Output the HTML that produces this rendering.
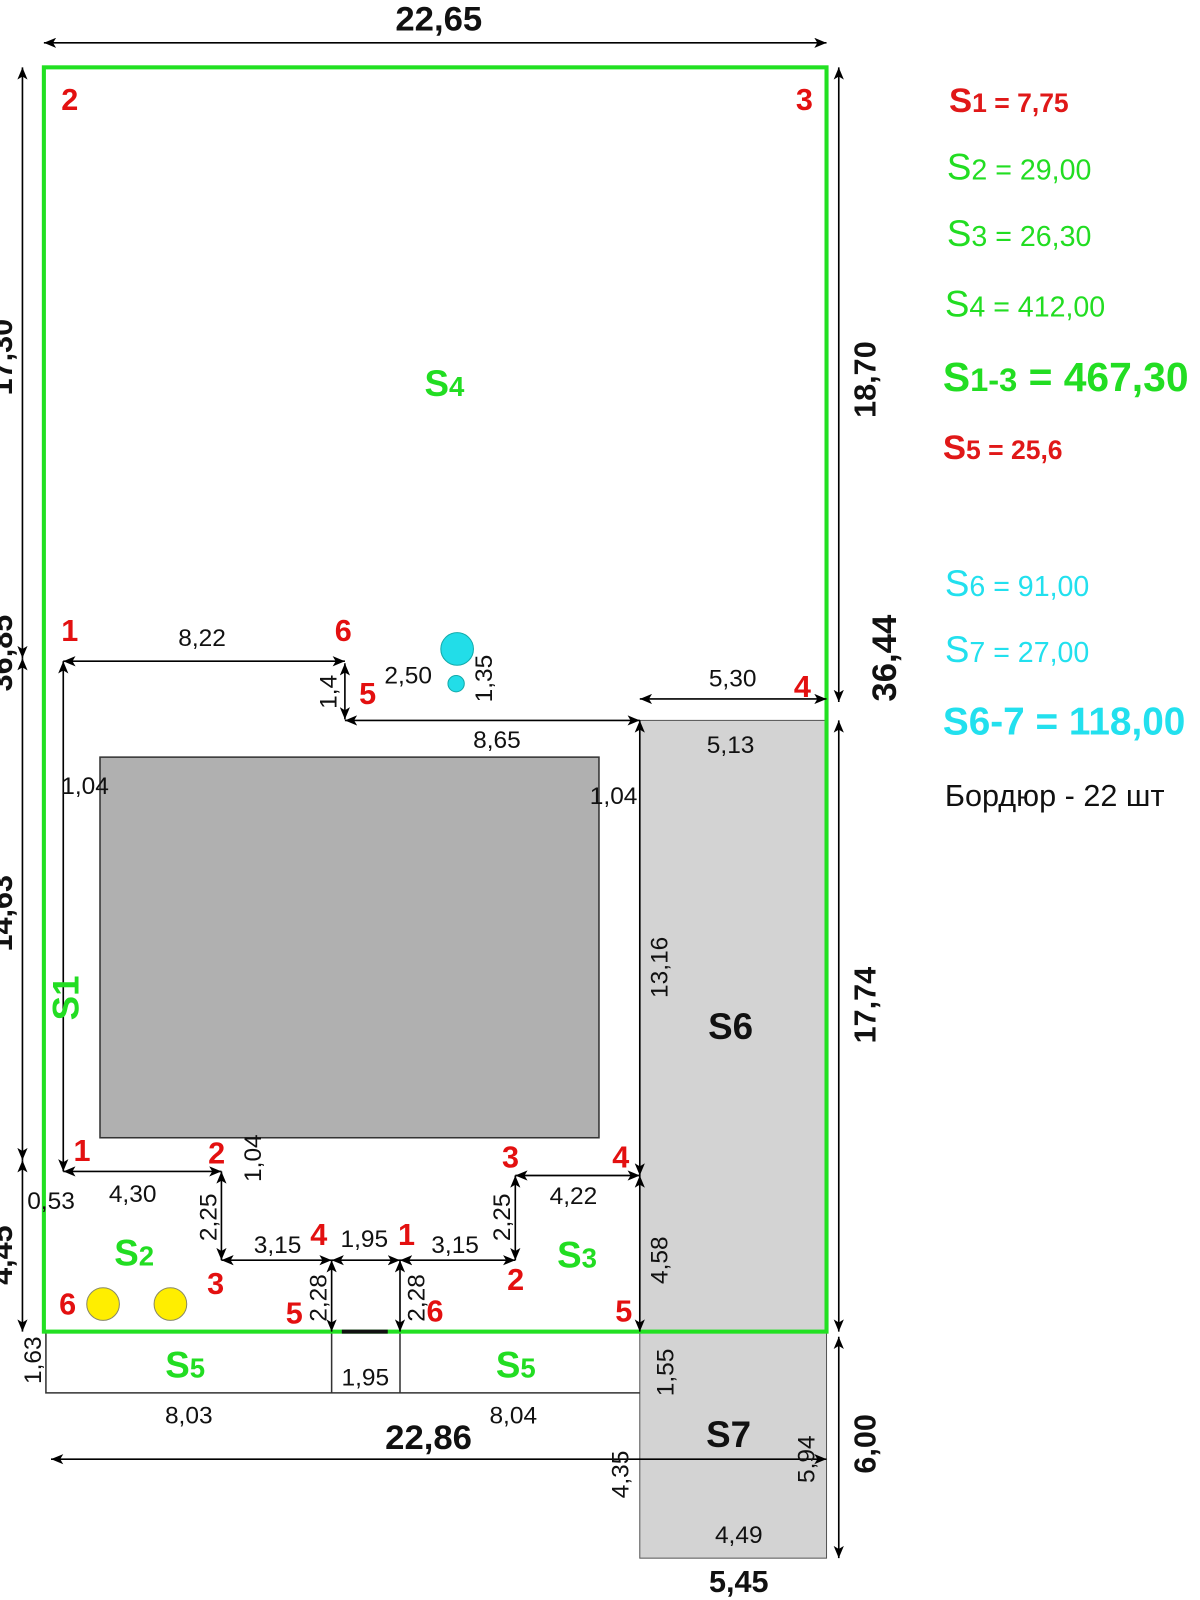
<!DOCTYPE html>
<html><head><meta charset="utf-8"><style>
html,body{margin:0;padding:0;background:#fff}
svg{display:block}
text{font-family:"Liberation Sans","DejaVu Sans",sans-serif}
.d{font-size:24px;fill:#111}
.b{font-size:34px;font-weight:bold;fill:#111}
.bm{font-size:30px;font-weight:bold;fill:#111}
.r{font-size:30px;font-weight:bold;fill:#e31010}
.g{font-size:36px;font-weight:bold;fill:#22dd22}
</style></head><body>
<svg width="1200" height="1600" viewBox="0 0 1200 1600" xmlns="http://www.w3.org/2000/svg">
<defs>
<marker id="a" viewBox="0 0 12 10" refX="12" refY="5" markerWidth="12" markerHeight="10" markerUnits="userSpaceOnUse" orient="auto-start-reverse"><path d="M0,0 L12,5 L0,10 L3,5 z" fill="#000"/></marker>
</defs>
<g transform="scale(1.0204)">
<rect x="627" y="706" width="183" height="599" fill="#d3d3d3" stroke="#555" stroke-width="1"/>
<rect x="627" y="1305" width="183" height="222" fill="#d3d3d3" stroke="#555" stroke-width="1"/>
<rect x="98" y="742" width="489" height="373" fill="#b0b0b0" stroke="#333" stroke-width="1.5"/>
<path d="M45 1305 V1365 H627 M325 1305 V1365 M392 1305 V1365" fill="none" stroke="#333" stroke-width="1.5"/>
<rect x="43" y="66" width="767" height="1239" fill="none" stroke="#22e022" stroke-width="4"/>
<line x1="335" y1="1305" x2="380" y2="1305" stroke="#111" stroke-width="4"/>
<circle cx="448" cy="636" r="16" fill="#22dde8" stroke="#1aa" stroke-width="1"/>
<circle cx="447" cy="670" r="8" fill="#22dde8" stroke="#1aa" stroke-width="1"/>
<circle cx="101" cy="1278" r="16" fill="#ffee00" stroke="#886" stroke-width="1"/>
<circle cx="167" cy="1278" r="16" fill="#ffee00" stroke="#886" stroke-width="1"/>
<g stroke="#000" stroke-width="1.6" fill="none">
<line x1="43" y1="42" x2="810" y2="42" marker-start="url(#a)" marker-end="url(#a)"/>
<line x1="22" y1="66" x2="22" y2="645" marker-start="url(#a)" marker-end="url(#a)"/>
<line x1="22" y1="645" x2="22" y2="1137" marker-start="url(#a)" marker-end="url(#a)"/>
<line x1="22" y1="1137" x2="22" y2="1305" marker-start="url(#a)" marker-end="url(#a)"/>
<line x1="822" y1="66" x2="822" y2="688" marker-start="url(#a)" marker-end="url(#a)"/>
<line x1="822" y1="706" x2="822" y2="1305" marker-start="url(#a)" marker-end="url(#a)"/>
<line x1="822" y1="1310" x2="822" y2="1527" marker-start="url(#a)" marker-end="url(#a)"/>
<line x1="62" y1="648" x2="338" y2="648" marker-start="url(#a)" marker-end="url(#a)"/>
<line x1="62" y1="648" x2="62" y2="1148" marker-start="url(#a)" marker-end="url(#a)"/>
<line x1="338" y1="650" x2="338" y2="705" marker-start="url(#a)" marker-end="url(#a)"/>
<line x1="338" y1="706" x2="627" y2="706" marker-start="url(#a)" marker-end="url(#a)"/>
<line x1="627" y1="685" x2="810" y2="685" marker-start="url(#a)" marker-end="url(#a)"/>
<line x1="627" y1="706" x2="627" y2="1152" marker-start="url(#a)" marker-end="url(#a)"/>
<line x1="627" y1="1152" x2="627" y2="1305" marker-start="url(#a)" marker-end="url(#a)"/>
<line x1="62" y1="1148" x2="217" y2="1148" marker-start="url(#a)" marker-end="url(#a)"/>
<line x1="217" y1="1148" x2="217" y2="1235" marker-start="url(#a)" marker-end="url(#a)"/>
<line x1="217" y1="1235" x2="325" y2="1235" marker-start="url(#a)" marker-end="url(#a)"/>
<line x1="325" y1="1235" x2="392" y2="1235" marker-start="url(#a)" marker-end="url(#a)"/>
<line x1="392" y1="1235" x2="505" y2="1235" marker-start="url(#a)" marker-end="url(#a)"/>
<line x1="505" y1="1152" x2="505" y2="1235" marker-start="url(#a)" marker-end="url(#a)"/>
<line x1="505" y1="1152" x2="627" y2="1152" marker-start="url(#a)" marker-end="url(#a)"/>
<line x1="325" y1="1235" x2="325" y2="1305" marker-start="url(#a)" marker-end="url(#a)"/>
<line x1="392" y1="1235" x2="392" y2="1305" marker-start="url(#a)" marker-end="url(#a)"/>
<line x1="50" y1="1430" x2="810" y2="1430" marker-start="url(#a)" marker-end="url(#a)"/>
</g>
<text class="b" x="430" y="30" text-anchor="middle">22,65</text>
<text class="b" x="420" y="1420" text-anchor="middle">22,86</text>
<text class="bm" x="724" y="1560" text-anchor="middle">5,45</text>
<g class="bm">
<text transform="translate(12,350) rotate(-90)" text-anchor="middle">17,30</text>
<text transform="translate(12,640) rotate(-90)" text-anchor="middle">36,85</text>
<text transform="translate(12,895) rotate(-90)" text-anchor="middle">14,63</text>
<text transform="translate(12,1230) rotate(-90)" text-anchor="middle">4,45</text>
<text transform="translate(858,372) rotate(-90)" text-anchor="middle">18,70</text>
<text transform="translate(858,985) rotate(-90)" text-anchor="middle">17,74</text>
<text transform="translate(858,1415) rotate(-90)" text-anchor="middle">6,00</text>
</g>
<text class="b" transform="translate(878,645) rotate(-90)" text-anchor="middle">36,44</text>
<g class="d">
<text x="198" y="633" text-anchor="middle">8,22</text>
<text x="400" y="670" text-anchor="middle">2,50</text>
<text x="487" y="733" text-anchor="middle">8,65</text>
<text x="718" y="673" text-anchor="middle">5,30</text>
<text x="716" y="738" text-anchor="middle">5,13</text>
<text x="60" y="778">1,04</text>
<text x="578" y="788">1,04</text>
<text x="130" y="1178" text-anchor="middle">4,30</text>
<text x="50" y="1185" text-anchor="middle">0,53</text>
<text x="272" y="1228" text-anchor="middle">3,15</text>
<text x="357" y="1222" text-anchor="middle">1,95</text>
<text x="446" y="1228" text-anchor="middle">3,15</text>
<text x="562" y="1180" text-anchor="middle">4,22</text>
<text x="358" y="1358" text-anchor="middle">1,95</text>
<text x="185" y="1395" text-anchor="middle">8,03</text>
<text x="503" y="1395" text-anchor="middle">8,04</text>
<text x="724" y="1512" text-anchor="middle">4,49</text>
<text transform="translate(330,678) rotate(-90)" text-anchor="middle">1,4</text>
<text transform="translate(482,665) rotate(-90)" text-anchor="middle">1,35</text>
<text transform="translate(654,948) rotate(-90)" text-anchor="middle">13,16</text>
<text transform="translate(256,1135) rotate(-90)" text-anchor="middle">1,04</text>
<text transform="translate(212,1193) rotate(-90)" text-anchor="middle">2,25</text>
<text transform="translate(500,1193) rotate(-90)" text-anchor="middle">2,25</text>
<text transform="translate(654,1235) rotate(-90)" text-anchor="middle">4,58</text>
<text transform="translate(320,1272) rotate(-90)" text-anchor="middle">2,28</text>
<text transform="translate(416,1272) rotate(-90)" text-anchor="middle">2,28</text>
<text transform="translate(40,1333) rotate(-90)" text-anchor="middle">1,63</text>
<text transform="translate(660,1345) rotate(-90)" text-anchor="middle">1,55</text>
<text transform="translate(616,1445) rotate(-90)" text-anchor="middle">4,35</text>
<text transform="translate(798,1430) rotate(-90)" text-anchor="middle">5,94</text>
</g>
<g class="r">
<text x="60" y="108">2</text><text x="780" y="108">3</text>
<text x="60" y="628">1</text><text x="328" y="628">6</text><text x="352" y="690">5</text>
<text x="778" y="683">4</text>
<text x="72" y="1138">1</text><text x="204" y="1140">2</text><text x="492" y="1144">3</text><text x="600" y="1144">4</text>
<text x="203" y="1268">3</text><text x="304" y="1220">4</text><text x="390" y="1220">1</text><text x="497" y="1264">2</text>
<text x="58" y="1288">6</text><text x="280" y="1297">5</text><text x="418" y="1295">6</text><text x="603" y="1295">5</text>
</g>
<g class="g">
<text x="416" y="388">S<tspan font-size="27">4</tspan></text>
<text x="112" y="1240">S<tspan font-size="27">2</tspan></text>
<text x="546" y="1242">S<tspan font-size="27">3</tspan></text>
<text x="162" y="1350">S<tspan font-size="27">5</tspan></text>
<text x="486" y="1350">S<tspan font-size="27">5</tspan></text>
<text transform="translate(77,978) rotate(-90)" text-anchor="middle">S1</text>
</g>
<text x="694" y="1018" font-size="36" font-weight="bold" fill="#111">S6</text>
<text x="692" y="1418" font-size="36" font-weight="bold" fill="#111">S7</text>
<g>
<text x="930" y="110" font-size="34" font-weight="bold" fill="#e01818">S<tspan font-size="26">1 = 7,75</tspan></text>
<text x="928" y="176" font-size="36" fill="#22dd22">S<tspan font-size="28">2 = 29,00</tspan></text>
<text x="928" y="241" font-size="36" fill="#22dd22">S<tspan font-size="28">3 = 26,30</tspan></text>
<text x="926" y="310" font-size="36" fill="#22dd22">S<tspan font-size="28">4 = 412,00</tspan></text>
<text x="924" y="383" font-size="40" font-weight="bold" fill="#22dd22">S<tspan font-size="32">1-3</tspan><tspan> = 467,30</tspan></text>
<text x="924" y="450" font-size="34" font-weight="bold" fill="#e01818">S<tspan font-size="26">5 = 25,6</tspan></text>
<text x="926" y="584" font-size="36" fill="#22e0ee">S<tspan font-size="28">6 = 91,00</tspan></text>
<text x="926" y="649" font-size="36" fill="#22e0ee">S<tspan font-size="28">7 = 27,00</tspan></text>
<text x="924" y="720" font-size="38" font-weight="bold" fill="#22e0ee">S6-7 = 118,00</text>
<text x="926" y="790" font-size="30" fill="#111">Бордюр - 22 шт</text>
</g>
</g>
</svg>
</body></html>
